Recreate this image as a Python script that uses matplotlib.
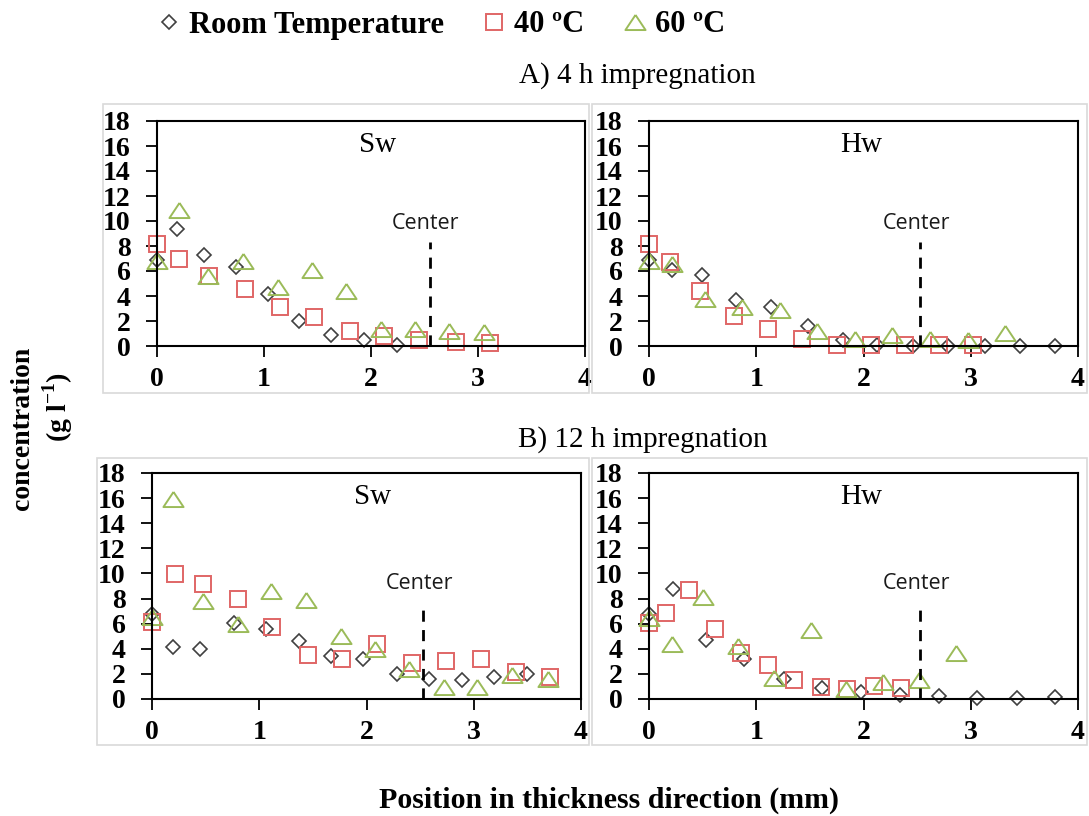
import numpy as np
import matplotlib
matplotlib.use("Agg")
from matplotlib import pyplot as plt
from matplotlib.patches import Rectangle
from matplotlib.lines import Line2D

plt.rcParams['font.family'] = ['Liberation Serif', 'DejaVu Serif']
plt.rcParams['mathtext.fontset'] = 'custom'
plt.rcParams['mathtext.rm'] = 'Liberation Serif'
plt.rcParams['mathtext.bf'] = 'Liberation Serif:bold'

# series names
series = ["Room Temperature", "40 ºC", "60 ºC"]

# A) 4 h impregnation, softwood
a_sw_rt_x = [0, 0.19, 0.44, 0.74, 1.04, 1.33, 1.63, 1.93, 2.24]
a_sw_rt_y = [6.9, 9.4, 7.3, 6.3, 4.2, 2.0, 0.9, 0.45, 0.1]
a_sw_40_x = [0, 0.21, 0.49, 0.82, 1.15, 1.47, 1.80, 2.12, 2.45, 2.79, 3.11]
a_sw_40_y = [8.2, 7.0, 5.6, 4.6, 3.1, 2.3, 1.2, 0.8, 0.5, 0.3, 0.25]
a_sw_60_x = [0, 0.21, 0.48, 0.80, 1.13, 1.45, 1.77, 2.09, 2.41, 2.73, 3.06]
a_sw_60_y = [6.8, 10.9, 5.6, 6.8, 4.7, 6.05, 4.4, 1.35, 1.4, 1.2, 1.1]

# A) 4 h impregnation, hardwood
a_hw_rt_x = [0, 0.21, 0.49, 0.81, 1.14, 1.48, 1.81, 2.13, 2.46, 2.79, 3.13, 3.46, 3.79]
a_hw_rt_y = [6.9, 6.1, 5.65, 3.7, 3.1, 1.6, 0.5, 0.05, 0, 0, 0, 0, 0]
a_hw_40_x = [0, 0.2, 0.48, 0.79, 1.11, 1.43, 1.75, 2.07, 2.39, 2.70, 3.02]
a_hw_40_y = [8.2, 6.7, 4.4, 2.4, 1.35, 0.55, 0.1, 0.05, 0.05, 0.05, 0.05]
a_hw_60_x = [0, 0.21, 0.52, 0.87, 1.22, 1.57, 1.92, 2.27, 2.62, 2.97, 3.32]
a_hw_60_y = [6.8, 6.6, 3.8, 3.1, 2.9, 1.2, 0.6, 0.9, 0.6, 0.45, 1.05]

# B) 12 h impregnation, softwood
b_sw_rt_x = [0, 0.2, 0.45, 0.76, 1.06, 1.37, 1.67, 1.97, 2.28, 2.58, 2.89, 3.19, 3.5]
b_sw_rt_y = [6.8, 4.15, 3.95, 6.05, 5.6, 4.65, 3.45, 3.15, 2.0, 1.6, 1.55, 1.75, 2.0]
b_sw_40_x = [0, 0.21, 0.48, 0.8, 1.12, 1.45, 1.77, 2.1, 2.42, 2.74, 3.07, 3.39, 3.71]
b_sw_40_y = [6.1, 9.95, 9.15, 7.95, 5.7, 3.5, 3.15, 4.35, 2.9, 3.0, 3.2, 2.15, 1.75]
b_sw_60_x = [0, 0.2, 0.48, 0.8, 1.11, 1.44, 1.76, 2.08, 2.4, 2.72, 3.03, 3.36, 3.69]
b_sw_60_y = [6.5, 15.9, 7.8, 6.0, 8.6, 7.85, 5.05, 4.0, 2.4, 0.95, 0.95, 1.9, 1.6]

# B) 12 h impregnation, hardwood
b_hw_rt_x = [0, 0.22, 0.53, 0.89, 1.26, 1.61, 1.98, 2.34, 2.7, 3.06, 3.43, 3.79]
b_hw_rt_y = [6.8, 8.75, 4.7, 3.2, 1.6, 0.9, 0.55, 0.35, 0.2, 0.05, 0.05, 0.15]
b_hw_40_x = [0, 0.16, 0.37, 0.62, 0.86, 1.11, 1.35, 1.6, 1.85, 2.1, 2.35]
b_hw_40_y = [6.05, 6.85, 8.7, 5.6, 3.65, 2.7, 1.55, 0.95, 0.8, 1.05, 0.85]
b_hw_60_x = [0, 0.21, 0.5, 0.83, 1.17, 1.51, 1.84, 2.18, 2.52, 2.86]
b_hw_60_y = [6.45, 4.4, 8.1, 4.2, 1.65, 5.5, 0.8, 1.35, 1.5, 3.7]

center_x = [2.55, 2.53, 2.53, 2.53]
center_top = [8.3, 8.3, 7.7, 7.7]

rt_color = "#404040"
c40_color = "#E06666"
c60_color = "#9BBB59"

# flatter triangle, like the spreadsheet marker
tri = [(0, 0.75), (-1, -0.75), (1, -0.75), (0, 0.75)]
rt_style = dict(marker='D', ms=6.8, mfc='none', mec=rt_color, mew=1.2)
c40_style = dict(marker='s', ms=12, mfc='none', mec=c40_color, mew=1.4)
c60_style = dict(marker=tri, ms=14.5, mfc='none', mec=c60_color, mew=1.4)

W, H = 1089, 816
fig = plt.figure(figsize=(W / 100, H / 100), dpi=100)


def px_axes(l, r, t, b):
    return fig.add_axes([l / W, 1 - b / H, (r - l) / W, (b - t) / H])


# light gray chart-area frames
for (l, t, r, b) in [(103, 104, 589, 393), (592, 104, 1087, 393),
                     (97, 458, 589, 745), (592, 458, 1087, 745)]:
    fig.patches.append(Rectangle((l / W, 1 - b / H), (r - l) / W, (b - t) / H,
                                 transform=fig.transFigure, fill=False,
                                 edgecolor="#d9d9d9", linewidth=1.2))

axes = [px_axes(157, 585, 121, 346), px_axes(649, 1078, 121, 346),
        px_axes(152, 581, 473, 699), px_axes(649, 1078, 473, 699)]

panels = [
    ("Sw", a_sw_rt_x, a_sw_rt_y, a_sw_40_x, a_sw_40_y, a_sw_60_x, a_sw_60_y),
    ("Hw", a_hw_rt_x, a_hw_rt_y, a_hw_40_x, a_hw_40_y, a_hw_60_x, a_hw_60_y),
    ("Sw", b_sw_rt_x, b_sw_rt_y, b_sw_40_x, b_sw_40_y, b_sw_60_x, b_sw_60_y),
    ("Hw", b_hw_rt_x, b_hw_rt_y, b_hw_40_x, b_hw_40_y, b_hw_60_x, b_hw_60_y),
]

for i, (ax, p) in enumerate(zip(axes, panels)):
    name, rx, ry, fx, fy, sx, sy = p
    ax.plot(rx, ry, ls='none', clip_on=False, **rt_style)
    ax.plot(fx, fy, ls='none', clip_on=False, **c40_style)
    ax.plot(sx, sy, ls='none', clip_on=False, **c60_style)
    ax.plot([center_x[i], center_x[i]], [0, center_top[i]], color='black',
            lw=2, dashes=(4, 3))
    ax.text(center_x[i] - 0.04, center_top[i] + 1.5, "Center", ha='center',
            va='center', fontsize=15.5, family=['Open Sans', 'DejaVu Sans'],
            color='#1a1a1a')
    ax.text(2.06 if name == "Sw" else 1.98, 16.1, name, ha='center', va='center',
            fontsize=21)
    ax.set_xlim(0, 4)
    ax.set_ylim(0, 18)
    ax.set_xticks([0, 1, 2, 3, 4])
    ax.set_yticks(np.arange(0, 19, 2))
    for s in ax.spines.values():
        s.set_linewidth(1.5)
    ax.tick_params(direction='out', length=8, width=1.3, labelsize=20)
    ax.tick_params(axis='x', pad=7)
    ax.tick_params(axis='y', pad=11)
    for lab in ax.get_xticklabels() + ax.get_yticklabels():
        lab.set_fontweight('bold')

fig.text(637 / W, 1 - 76 / H, "A) 4 h impregnation", ha='center', va='center',
         fontsize=21)
fig.text(643 / W, 1 - 440 / H, "B) 12 h impregnation", ha='center', va='center',
         fontsize=21)

fig.text(22 / W, 1 - 428 / H, "concentration", rotation=90, ha='center',
         va='center', fontsize=20, fontweight='bold')
fig.text(58 / W, 1 - 407 / H, r"(g l$^{\mathbf{-1}}$)", rotation=90,
         ha='center', va='center', fontsize=20, fontweight='bold')
fig.text(609 / W, 1 - 800 / H, "Position in thickness direction (mm)",
         ha='center', va='center', fontsize=21.5, fontweight='bold')

handles = [Line2D([], [], ls='none', **rt_style),
           Line2D([], [], ls='none', **c40_style),
           Line2D([], [], ls='none', **c60_style)]
fig.legend(handles, series, loc='center', bbox_to_anchor=(440 / W, 1 - 25 / H),
           ncol=3, frameon=False, prop={'size': 22, 'weight': 'bold'},
           handletextpad=0.2, columnspacing=1.2, handlelength=0.9)

fig.savefig("out.png", dpi=100)
